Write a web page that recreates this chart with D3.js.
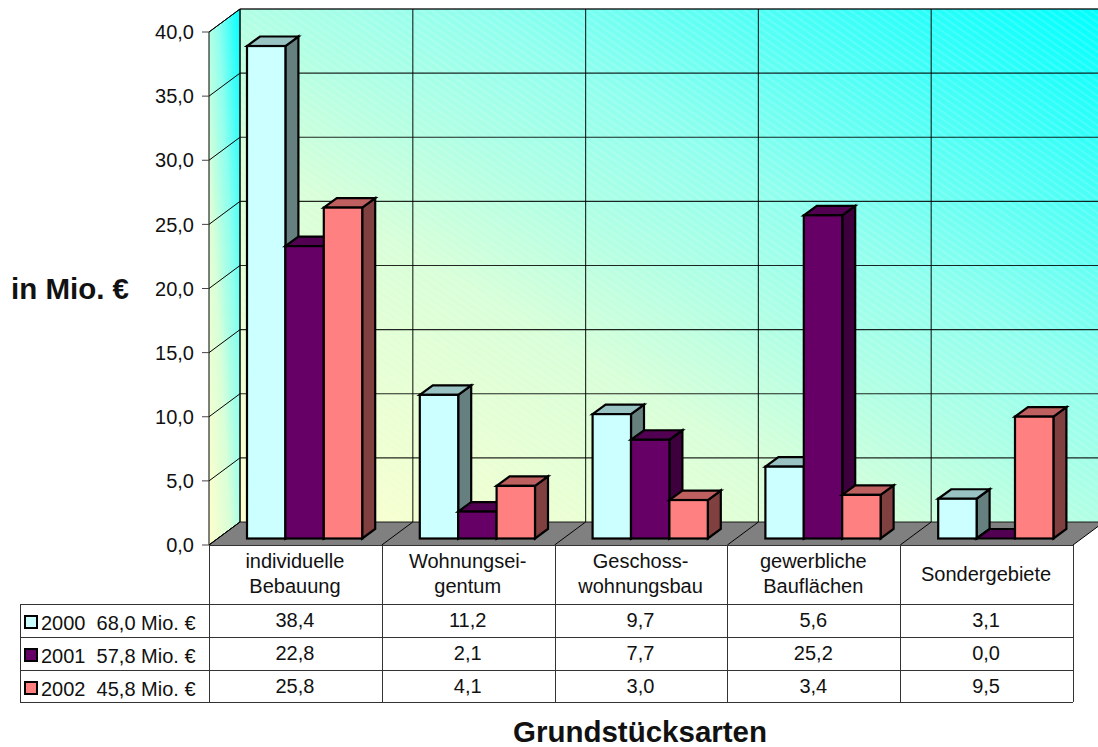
<!DOCTYPE html>
<html>
<head>
<meta charset="utf-8">
<script src="https://cdn.jsdelivr.net/npm/d3@7"></script>
<style>
  html, body { margin: 0; padding: 0; background: #fff; }
  svg { display: block; }
  text { font-family: "Liberation Sans", Arial, sans-serif; fill: #111; }
</style>
</head>
<body>
<svg id="chart" width="1098" height="747"></svg>
<script>
const categories = [["individuelle", "Bebauung"], ["Wohnungsei-", "gentum"], ["Geschoss-", "wohnungsbau"], ["gewerbliche", "Bauflächen"], ["Sondergebiete"]];
const seriesNames = ["2000  68,0 Mio. €", "2001  57,8 Mio. €", "2002  45,8 Mio. €"];
const values2000 = [38.4, 11.2, 9.7, 5.6, 3.1];
const values2001 = [22.8, 2.1, 7.7, 25.2, 0.0];
const values2002 = [25.8, 4.1, 3.0, 3.4, 9.5];
const yTicks = [0, 5, 10, 15, 20, 25, 30, 35, 40];
const frontColors = ["#ccffff", "#660066", "#ff8080"];
const topColors = ["#99c2c2", "#520052", "#bf6060"];
const sideColors = ["#668080", "#3d003d", "#804040"];
const wallStops = [[0, "#ffffcc"], [0.36, "#d8ffd8"], [0.5, "#b0ffe4"], [0.635, "#90ffee"], [0.785, "#55fff5"], [1, "#00ffff"]];

const allValues = [values2000, values2001, values2002];
const fmt = v => v.toFixed(1).replace(".", ",");

const svg = d3.select("#chart");
const defs = svg.append("defs");

// Category band and value scale on the front plane of the 3D box
const x = d3.scaleBand().domain(d3.range(categories.length)).range([209, 1073]);
const y = d3.scaleLinear().domain([0, 40]).range([545, 32]);
const depth = { dx: 31, dy: -23 };
const barDepth = { dx: 13, dy: -9.5 };
const barDrop = -6.5;
const barW = 38.4;
const barLeft = 38;
const clipRight = 1098;

const backY = v => y(v) + depth.dy;
const backX = v => v + depth.dx;

// Corner-to-corner gradient shared by both walls, with a faint diagonal banding
const wallGrad = defs.append("linearGradient").attr("id", "wallGrad")
  .attr("x1", 0).attr("y1", 1).attr("x2", 1).attr("y2", 0);
wallStops.forEach(([o, c]) => wallGrad.append("stop").attr("offset", o).attr("stop-color", c));
const banding = defs.append("pattern").attr("id", "banding").attr("patternUnits", "userSpaceOnUse")
  .attr("width", 6).attr("height", 6).attr("patternTransform", "rotate(35)");
banding.append("rect").attr("width", 6).attr("height", 2).attr("fill", "#fff").attr("fill-opacity", 0.13);

const line = d3.line();
const poly = pts => line(pts) + "Z";
const plane = svg.append("g");

[["url(#wallGrad)"], ["url(#banding)"]].forEach(([fill]) => {
  plane.append("rect").attr("x", backX(209)).attr("y", backY(40))
    .attr("width", clipRight - backX(209)).attr("height", backY(0) - backY(40)).attr("fill", fill);
});
plane.append("path").attr("fill", "url(#wallGrad)").attr("stroke", "#000").attr("stroke-width", 1)
  .attr("d", poly([[209, y(0)], [209, y(40)], [240, backY(40)], [240, backY(0)]]));
// Floor, cut off by the right edge of the page
plane.append("path").attr("fill", "#808080")
  .attr("d", poly([[209, y(0)], [240, backY(0)], [clipRight, backY(0)], [clipRight, y(0) + depth.dy * (clipRight - 1073) / depth.dx], [1073, y(0)]]));

// Horizontal gridlines with their run along the side wall
yTicks.forEach(t => {
  plane.append("line").attr("x1", 240).attr("x2", clipRight).attr("y1", backY(t)).attr("y2", backY(t))
    .attr("stroke", "#000").attr("stroke-width", t === 40 ? 1.5 : 1.1).attr("stroke-opacity", 0.85);
  plane.append("line").attr("x1", 209).attr("x2", 240).attr("y1", y(t)).attr("y2", backY(t))
    .attr("stroke", "#000");
  plane.append("line").attr("x1", 202).attr("x2", 209).attr("y1", y(t)).attr("y2", y(t))
    .attr("stroke", "#444");
});
// Vertical gridlines and floor divisions
d3.range(categories.length + 1).forEach(i => {
  const fx = i < categories.length ? x(i) : x.range()[1];
  if (backX(fx) < clipRight) {
    plane.append("line").attr("x1", backX(fx)).attr("x2", backX(fx)).attr("y1", backY(40)).attr("y2", backY(0))
      .attr("stroke", "#000").attr("stroke-opacity", 0.8).attr("stroke-width", 1.2);
  }
  const endX = Math.min(backX(fx), clipRight);
  plane.append("line").attr("x1", fx).attr("x2", endX)
    .attr("y1", y(0)).attr("y2", y(0) + depth.dy * (endX - fx) / depth.dx)
    .attr("stroke", "#000");
});

// Bars, left to right so each one covers the side face of its neighbour
const barsLayer = svg.append("g").attr("stroke", "#000").attr("stroke-width", 2.2).attr("stroke-linejoin", "miter");
categories.forEach((_, ci) => {
  [0, 1, 2].forEach(si => {
    const v = allValues[si][ci];
    const xl = x(ci) + barLeft + si * barW;
    const xr = xl + barW;
    const yb = y(0) + barDrop;
    const yt = y(v) + barDrop;
    const g = barsLayer.append("g");
    g.append("path").attr("fill", sideColors[si])
      .attr("d", poly([[xr, yb], [xr, yt], [xr + barDepth.dx, yt + barDepth.dy], [xr + barDepth.dx, yb + barDepth.dy]]));
    g.append("path").attr("fill", topColors[si])
      .attr("d", poly([[xl, yt], [xl + barDepth.dx, yt + barDepth.dy], [xr + barDepth.dx, yt + barDepth.dy], [xr, yt]]));
    g.append("rect").attr("x", xl).attr("y", yt).attr("width", barW).attr("height", yb - yt).attr("fill", frontColors[si]);
  });
});

// Value axis labels
svg.append("g").selectAll("text").data(yTicks).join("text")
  .attr("x", 194).attr("y", d => y(d)).attr("dy", "0.36em").attr("text-anchor", "end")
  .attr("font-size", 20).text(d => fmt(d));

// Data table
const tableRows = [545, 604, 637, 670, 702];
const table = svg.append("g").attr("stroke", "#333").attr("stroke-width", 1).attr("shape-rendering", "crispEdges");
tableRows.forEach((r, i) => {
  table.append("line").attr("x1", i === 0 ? 209 : 20).attr("x2", 1073).attr("y1", r + 0.5).attr("y2", r + 0.5);
});
d3.range(categories.length + 1).forEach(i => {
  const fx = i < categories.length ? x(i) : 1073;
  table.append("line").attr("x1", fx + 0.5).attr("x2", fx + 0.5).attr("y1", 545).attr("y2", 702);
});
table.append("line").attr("x1", 20.5).attr("x2", 20.5).attr("y1", 604).attr("y2", 702);

const cellText = svg.append("g").attr("text-anchor", "middle").attr("font-size", 20);
categories.forEach((lines, ci) => {
  const cx = x(ci) + x.bandwidth() / 2 - 0.5;
  lines.forEach((l, li) => {
    const base = lines.length === 2 ? 568 + li * 25 : 581;
    cellText.append("text").attr("x", cx).attr("y", base).text(l);
  });
  allValues.forEach((vals, si) => {
    cellText.append("text").attr("x", cx).attr("y", tableRows[si + 1] + 23).text(fmt(vals[ci]));
  });
});

// Legend keys with series names
seriesNames.forEach((name, si) => {
  const ry = tableRows[si + 1];
  svg.append("rect").attr("x", 25).attr("y", ry + 12).attr("width", 12).attr("height", 12)
    .attr("fill", frontColors[si]).attr("stroke", "#000").attr("stroke-width", 2);
  svg.append("text").attr("x", 41).attr("y", ry + 26).attr("font-size", 20)
    .style("white-space", "pre").text(name);
});

// Axis titles
svg.append("text").attr("x", 70).attr("y", 299).attr("text-anchor", "middle")
  .attr("font-size", 29.5).attr("font-weight", "bold").text("in Mio. €");
svg.append("text").attr("x", 640).attr("y", 742).attr("text-anchor", "middle")
  .attr("font-size", 29.5).attr("font-weight", "bold").text("Grundstücksarten");
</script>
</body>
</html>
